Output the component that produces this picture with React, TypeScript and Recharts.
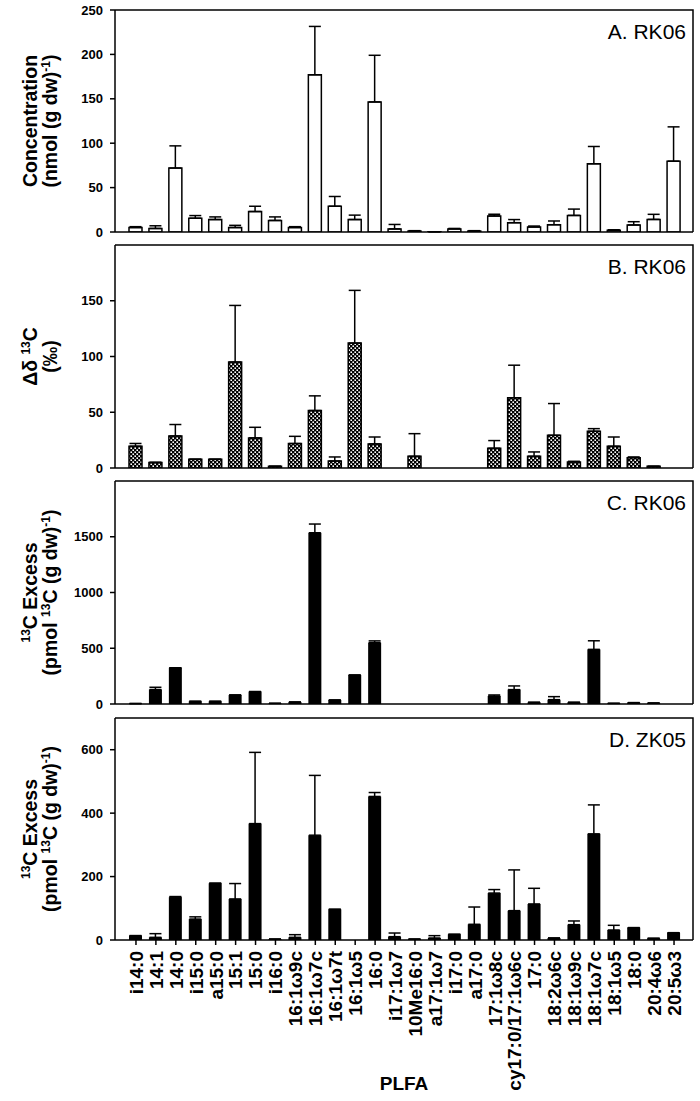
import React from 'react';
import { BarChart, Bar, XAxis, YAxis, ErrorBar } from 'recharts';

const FONT = '"Liberation Sans", Arial, Helvetica, sans-serif';

const PLFA = [
  'i14:0', '14:1', '14:0', 'i15:0', 'a15:0', '15:1', '15:0', 'i16:0', '16:1ω9c', '16:1ω7c',
  '16:1ω7t', '16:1ω5', '16:0', 'i17:1ω7', '10Me16:0', 'a17:1ω7', 'i17:0', 'a17:0', '17:1ω8c',
  'cy17:0/17:1ω6c', '17:0', '18:2ω6c', '18:1ω9c', '18:1ω7c', '18:1ω5', '18:0', '20:4ω6', '20:5ω3',
];

// A. RK06 concentration, nmol (g dw)-1
const concRK06 = [5, 4, 72, 15.5, 14, 5, 23, 13, 5, 177, 29, 14, 146.5, 3.5, 1, 0.3, 3.5, 1, 18, 10.5, 5.6, 8.2, 18.7, 76.8, 2, 7.9, 14.2, 79.8];
const concRK06Err = [1, 3, 25, 3, 3, 2.5, 6, 4, 1, 54.5, 11, 5, 52.5, 5, 0.5, 0, 0.5, 0.5, 2, 3.5, 1.1, 4.2, 7.1, 19.5, 0.5, 3.7, 5.7, 38.6];

// B. RK06 delta 13C, permil
const deltaRK06 = [19.5, 5, 28.7, 7.8, 7.8, 95, 27, 1.5, 21.9, 51.5, 6.3, 112, 21.6, null, 10.5, null, null, null, 17.7, 62.9, 10.5, 29.3, 5.4, 32.9, 19.5, 9.3, 1.5, null];
const deltaRK06Err = [2.5, 0, 10.3, 0, 0, 50.8, 9.5, 0, 6.5, 13.2, 3.6, 47.3, 6.2, null, 20.3, null, null, null, 6.9, 29.3, 3.9, 28.5, 0.6, 2.4, 8.3, 0.6, 0, null];

// C. RK06 13C excess, pmol 13C (g dw)-1
const excessRK06 = [4, 130, 325, 24, 24, 81, 111, 6, 18, 1536, 36, 260, 550, null, null, null, null, null, 72, 129, 15, 39, 15, 490, 6, 12, 9, null];
const excessRK06Err = [0, 20, 0, 0, 0, 0, 0, 0, 0, 78, 0, 0, 16, null, null, null, null, null, 9, 33, 0, 27, 0, 77, 0, 0, 0, null];

// D. ZK05 13C excess, pmol 13C (g dw)-1
const excessZK05 = [13.7, 8.4, 135, 66, 179, 129.5, 367, 3, 8.4, 330.5, 96.8, null, 452.6, 10.5, 3, 6.3, 17.9, 49.5, 148, 92.6, 113.7, 6.3, 48.4, 334.7, 31.6, 38.9, 5.3, 23];
const excessZK05Err = [0, 11.6, 2, 7, 0, 48.5, 224.6, 0, 8.4, 188.5, 0, null, 12.4, 11.5, 0, 7.4, 0, 54.5, 11, 128.4, 49.3, 0, 11.6, 91.3, 14.7, 0, 0, 0];

const errPair = (e: number | null) => (e == null ? null : [0, e]);

const rows = PLFA.map((name, i) => ({
  name,
  conc: concRK06[i],
  concErr: errPair(concRK06Err[i]),
  delta: deltaRK06[i],
  deltaErr: errPair(deltaRK06Err[i]),
  exRK: excessRK06[i],
  exRKErr: errPair(excessRK06Err[i]),
  exZK: excessZK05[i],
  exZKErr: errPair(excessZK05Err[i]),
}));

const W = 700;
const MT = 8;
const PLOT_L = 115;
const PLOT_R = 693;

const RotTick = ({ x, y, payload }: any) => (
  <text
    x={x}
    y={y}
    dy="0.36em"
    transform={`rotate(-90, ${x}, ${y})`}
    textAnchor="end"
    fontFamily={FONT}
    fontWeight="bold"
    fontSize={19}
    fill="#000"
  >
    {payload.value}
  </text>
);

interface PanelProps {
  top: number;
  plotH: number;
  dataKey: string;
  errKey: string;
  domain: [number, number];
  ticks: number[];
  fill: string;
  stroke?: string;
  title: string;
  line1: React.ReactNode;
  line2: React.ReactNode;
  last?: boolean;
  defs?: React.ReactNode;
}

function Panel({ top, plotH, dataKey, errKey, domain, ticks, fill, stroke, title, line1, line2, last, defs }: PanelProps) {
  const xH = last ? 153 : 8;
  const H = MT + plotH + xH;
  const cy = MT + plotH / 2;
  const axisStyle = { stroke: '#000', strokeWidth: 1.5 };

  return (
    <div style={{ position: 'absolute', left: 0, top }}>
      <BarChart width={W} height={H} data={rows} margin={{ top: MT, right: W - PLOT_R, left: 0, bottom: 0 }} barSize={13}>
        {defs}
        <XAxis
          dataKey="name"
          interval={0}
          padding={{ left: 11, right: 9 }}
          height={xH}
          axisLine={axisStyle}
          tickLine={axisStyle}
          tickSize={5}
          tickMargin={6}
          tick={last ? <RotTick /> : false}
          label={
            last
              ? {
                  content: () => (
                    <text x={404} y={380} textAnchor="middle" fontFamily={FONT} fontWeight="bold" fontSize={19} fill="#000">
                      PLFA
                    </text>
                  ),
                }
              : undefined
          }
        />
        <YAxis
          width={PLOT_L}
          domain={domain}
          ticks={ticks}
          interval={0}
          allowDataOverflow
          axisLine={axisStyle}
          tickLine={axisStyle}
          tickSize={5}
          tickMargin={7}
          tick={{ fill: '#000', fontSize: 13, fontWeight: 'bold', fontFamily: FONT }}
          label={{
            content: () => (
              <g>
                {/* top and right frame of the panel */}
                <polyline
                  points={`${PLOT_L},${MT} ${PLOT_R},${MT} ${PLOT_R},${MT + plotH}`}
                  fill="none"
                  stroke="#000"
                  strokeWidth={1.5}
                />
                <text x={686} y={MT + 29} textAnchor="end" fontFamily={FONT} fontSize={21} fill="#000">
                  {title}
                </text>
                <g fontFamily={FONT} fontWeight="bold" fontSize={19.5} fill="#000">
                  <text x={37} y={cy} textAnchor="middle" transform={`rotate(-90, 37, ${cy})`}>
                    {line1}
                  </text>
                  <text x={57} y={cy} textAnchor="middle" transform={`rotate(-90, 57, ${cy})`}>
                    {line2}
                  </text>
                </g>
              </g>
            ),
          }}
        />
        <Bar dataKey={dataKey} fill={fill} stroke={stroke} strokeWidth={stroke ? 1.5 : 0} isAnimationActive={false}>
          <ErrorBar dataKey={errKey} direction="y" width={6} stroke="#000" strokeWidth={1.5} isAnimationActive={false} />
        </Bar>
      </BarChart>
    </div>
  );
}

const SUP = { dy: -7, fontSize: 12 };
const DOWN = { dy: 7 };

export default function App() {
  const dotDefs = (
    <defs>
      <pattern id="dots" width={4} height={4} patternUnits="userSpaceOnUse">
        <rect width={4} height={4} fill="#000" />
        <rect x={0.4} y={0.4} width={1.6} height={1.6} fill="#fff" />
        <rect x={2.4} y={2.4} width={1.6} height={1.6} fill="#fff" />
      </pattern>
    </defs>
  );

  const excessL1 = (
    <>
      <tspan {...SUP}>13</tspan>
      <tspan {...DOWN}>C Excess</tspan>
    </>
  );
  const excessL2 = (
    <>
      <tspan>(pmol </tspan>
      <tspan {...SUP}>13</tspan>
      <tspan {...DOWN}>C (g dw)</tspan>
      <tspan {...SUP}>-1</tspan>
      <tspan {...DOWN}>)</tspan>
    </>
  );

  return (
    <div style={{ position: 'absolute', left: 0, top: 0, width: 700, height: 1101, background: '#fff' }}>
      <Panel
        top={2}
        plotH={222}
        dataKey="conc"
        errKey="concErr"
        domain={[0, 250]}
        ticks={[0, 50, 100, 150, 200, 250]}
        fill="#fff"
        stroke="#000"
        title="A. RK06"
        line1="Concentration"
        line2={
          <>
            <tspan>(nmol (g dw)</tspan>
            <tspan {...SUP}>-1</tspan>
            <tspan {...DOWN}>)</tspan>
          </>
        }
      />
      <Panel
        top={237}
        plotH={223}
        dataKey="delta"
        errKey="deltaErr"
        domain={[0, 200]}
        ticks={[0, 50, 100, 150]}
        fill="url(#dots)"
        stroke="#000"
        title="B. RK06"
        line1={
          <>
            <tspan>Δδ </tspan>
            <tspan {...SUP}>13</tspan>
            <tspan {...DOWN}>C</tspan>
          </>
        }
        line2="(‰)"
        defs={dotDefs}
      />
      <Panel
        top={473}
        plotH={223}
        dataKey="exRK"
        errKey="exRKErr"
        domain={[0, 2000]}
        ticks={[0, 500, 1000, 1500]}
        fill="#000"
        title="C. RK06"
        line1={excessL1}
        line2={excessL2}
      />
      <Panel
        top={710}
        plotH={222}
        dataKey="exZK"
        errKey="exZKErr"
        domain={[0, 700]}
        ticks={[0, 200, 400, 600]}
        fill="#000"
        title="D. ZK05"
        line1={excessL1}
        line2={excessL2}
        last
      />
    </div>
  );
}
